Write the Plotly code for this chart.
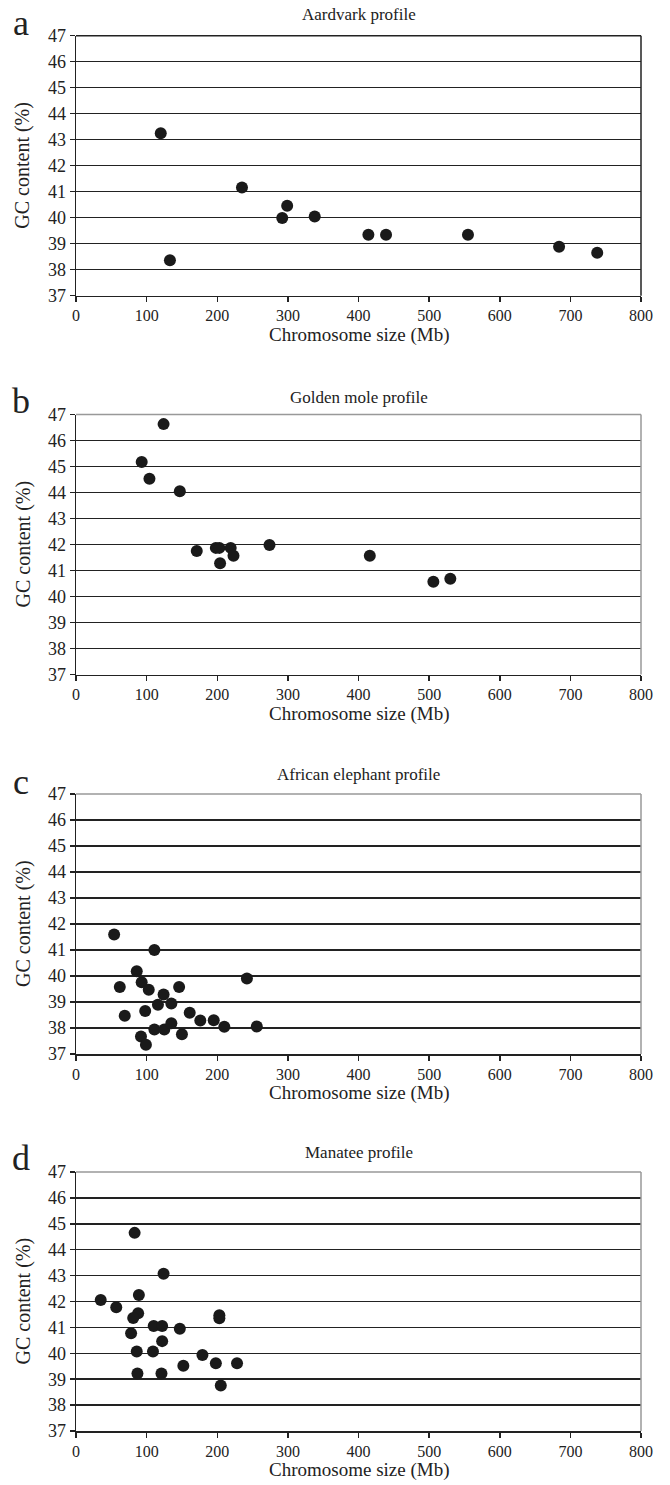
import plotly.graph_objects as go

# ---- data ----
panel_letters = ["a", "b", "c", "d"]
panel_titles = ["Aardvark profile", "Golden mole profile", "African elephant profile", "Manatee profile"]

aardvark_size = [120, 133, 235, 292, 299, 338, 414, 439, 555, 684, 738]
aardvark_gc = [43.25, 38.36, 41.16, 39.99, 40.46, 40.05, 39.34, 39.34, 39.34, 38.88, 38.65]

mole_size = [124, 93, 104, 147, 171, 198, 203, 204, 219, 223, 274, 416, 506, 530]
mole_gc = [46.63, 45.17, 44.53, 44.05, 41.75, 41.87, 41.87, 41.28, 41.87, 41.57, 41.98, 41.57, 40.57, 40.68]

elephant_size = [54, 111, 86, 62, 93, 103, 146, 124, 69, 98, 116, 135, 161, 176, 195, 210, 242, 256, 111, 125, 135, 150, 92, 99]
elephant_gc = [41.6, 41.0, 40.18, 39.58, 39.76, 39.47, 39.58, 39.29, 38.47, 38.65, 38.89, 38.94, 38.59, 38.29, 38.3, 38.05, 39.9, 38.06, 37.94, 37.94, 38.18, 37.76, 37.67, 37.36]

manatee_size = [83, 124, 35, 57, 89, 88, 81, 78, 110, 122, 147, 122, 86, 109, 87, 121, 152, 179, 198, 228, 203, 203, 205]
manatee_gc = [44.65, 43.07, 42.06, 41.78, 42.25, 41.55, 41.36, 40.77, 41.05, 41.05, 40.95, 40.47, 40.07, 40.07, 39.22, 39.22, 39.52, 39.93, 39.62, 39.62, 41.47, 41.35, 38.76]

x_tick_vals = [0, 100, 200, 300, 400, 500, 600, 700, 800]
y_tick_vals = [37, 38, 39, 40, 41, 42, 43, 44, 45, 46, 47]

series = [(aardvark_size, aardvark_gc), (mole_size, mole_gc),
          (elephant_size, elephant_gc), (manatee_size, manatee_gc)]

# ---- layout geometry (pixels) ----
W, H = 670, 1485
x_left, x_right = 76, 641
panel_px = [(35.7, 295.7), (414.5, 674.5), (794, 1054), (1172, 1431)]
title_off = [21, 17, 19, 20]
letter_off = [13, 14, 12, 14]
border_colors = ["#222222", "#999999", "#999999", "#999999"]

FONT = "Liberation Serif, Times New Roman, serif"
INK = "#222222"
fig = go.Figure()

layout = dict(
    width=W, height=H, autosize=False,
    margin=dict(l=0, r=0, t=0, b=0, pad=0, autoexpand=False),
    paper_bgcolor="white", plot_bgcolor="white",
    showlegend=False, hovermode=False,
    font=dict(family=FONT, color=INK),
)

annotations = []
shapes = []
for i, ((xs, ys), (top, bot)) in enumerate(zip(series, panel_px)):
    n = i + 1
    xa = "x" if n == 1 else f"x{n}"
    ya = "y" if n == 1 else f"y{n}"
    fig.add_trace(go.Scatter(
        x=xs, y=ys, mode="markers", xaxis=xa, yaxis=ya,
        marker=dict(size=12, color="#1a1a1a", line=dict(width=0)),
    ))
    dom_y = [1 - bot / H, 1 - top / H]
    layout["xaxis" if n == 1 else f"xaxis{n}"] = dict(
        domain=[x_left / W, x_right / W], anchor=ya, range=[0, 800],
        tickvals=x_tick_vals, ticks="outside", ticklen=5, tickwidth=1.5,
        tickcolor=INK, showgrid=False, zeroline=False, automargin=False,
        showline=True, linecolor=INK, linewidth=1.5,
        tickfont=dict(family=FONT, size=16, color=INK),
    )
    layout["yaxis" if n == 1 else f"yaxis{n}"] = dict(
        domain=dom_y, anchor=xa, range=[37, 47], automargin=False,
        tickvals=y_tick_vals, ticks="outside", ticklen=5, tickwidth=1.5,
        tickcolor=INK, showgrid=True, gridcolor=INK, gridwidth=1.5,
        zeroline=False, showline=True, linecolor=INK, linewidth=1.5,
        tickfont=dict(family=FONT, size=18, color=INK),
    )
    # top and right border
    shapes.append(dict(type="line", xref=f"{xa} domain", yref=f"{ya} domain",
                       x0=0, x1=1, y0=1, y1=1,
                       line=dict(color=border_colors[i], width=1.5)))
    shapes.append(dict(type="line", xref=f"{xa} domain", yref=f"{ya} domain",
                       x0=1, x1=1, y0=0, y1=1,
                       line=dict(color=border_colors[i], width=1.5)))
    # panel title
    annotations.append(dict(text=panel_titles[i], xref=f"{xa} domain", yref="paper",
                            x=0.5, y=1 - (top - title_off[i]) / H, showarrow=False,
                            font=dict(family=FONT, size=17, color=INK),
                            xanchor="center", yanchor="middle"))
    # panel letter
    annotations.append(dict(text=panel_letters[i], xref="paper", yref="paper",
                            x=21 / W, y=1 - (top - letter_off[i]) / H, showarrow=False,
                            font=dict(family=FONT, size=36, color=INK),
                            xanchor="center", yanchor="middle"))
    # y-axis title
    annotations.append(dict(text="GC content (%)", xref="paper", yref="paper",
                            x=23 / W, y=1 - ((top + bot) / 2) / H, showarrow=False,
                            textangle=-90,
                            font=dict(family=FONT, size=20, color=INK),
                            xanchor="center", yanchor="middle"))
    # x-axis title
    annotations.append(dict(text="Chromosome size (Mb)", xref=f"{xa} domain", yref="paper",
                            x=0.5, y=1 - (bot + 39) / H, showarrow=False,
                            font=dict(family=FONT, size=19, color=INK),
                            xanchor="center", yanchor="middle"))

layout["annotations"] = annotations
layout["shapes"] = shapes
fig.update_layout(**layout)

page_css = (
    "document.documentElement.style.margin='0';"
    "document.body.style.margin='0';"
    "document.body.style.overflow='hidden';"
)
fig.write_html("out.html", config={"displayModeBar": False, "staticPlot": True},
               post_script=page_css)
